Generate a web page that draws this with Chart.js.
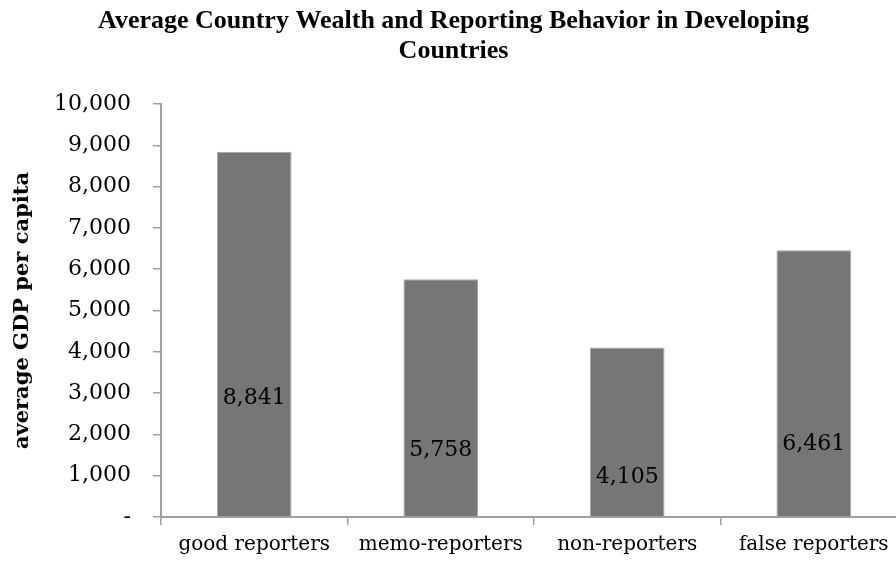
<!DOCTYPE html>
<html>
<head>
<meta charset="utf-8">
<script src="https://cdn.jsdelivr.net/npm/chart.js@4"></script>
<style>
  html, body { margin: 0; padding: 0; background: #fff; overflow: hidden; }
  #wrap { position: relative; width: 920px; height: 562px; }
</style>
</head>
<body>
<div id="wrap"><canvas id="c"></canvas></div>
<script>
// Reporting groups and their average GDP per capita
const categories = ['good reporters', 'memo-reporters', 'non-reporters', 'false reporters'];
const gdpPerCapita = [8841, 5758, 4105, 6461];
const titleLines = ['Average Country Wealth and Reporting Behavior in Developing', 'Countries'];
const yAxisTitle = 'average GDP per capita';
const yTicks = [0, 1000, 2000, 3000, 4000, 5000, 6000, 7000, 8000, 9000, 10000];

const fmt = v => v === 0 ? '-' : v.toLocaleString('en-US');

// Value labels sit inside each bar at an axis-unit height
const barLabels = {
  id: 'barLabels',
  afterDatasetsDraw(chart, args, opts) {
    const ctx = chart.ctx;
    const y = chart.scales.y;
    const meta = chart.getDatasetMeta(0);
    ctx.save();
    ctx.font = opts.font;
    ctx.fillStyle = '#000';
    ctx.textAlign = 'center';
    ctx.textBaseline = 'middle';
    meta.data.forEach((bar, i) => {
      const v = chart.data.datasets[0].data[i];
      ctx.fillText(fmt(v), bar.x, y.getPixelForValue(opts.anchors[i]));
    });
    ctx.restore();
  }
};

new Chart(document.getElementById('c'), {
  type: 'bar',
  data: {
    labels: categories,
    datasets: [{
      data: gdpPerCapita,
      backgroundColor: '#767676',
      borderColor: '#a8a8a8',
      borderWidth: 1,
      borderSkipped: 'bottom',
      categoryPercentage: 1.0,
      barPercentage: 0.4
    }]
  },
  options: {
    responsive: true,
    maintainAspectRatio: false,
    animation: false,
    layout: { padding: { left: 0, right: 13, top: 0, bottom: 0 } },
    plugins: {
      legend: { display: false },
      tooltip: { enabled: false },
      title: {
        display: true,
        text: titleLines,
        color: '#000',
        font: { family: 'Liberation Serif', size: 26, weight: 'bold', lineHeight: 1.154 },
        padding: { top: 6, bottom: 38 }
      },
      barLabels: {
        font: '22px "DejaVu Serif"',
        anchors: [2875, 1613, 958, 1759]
      }
    },
    scales: {
      x: {
        grid: {
          display: true,
          drawOnChartArea: false,
          drawTicks: true,
          tickLength: 8,
          color: '#a0a0a0',
          lineWidth: 1.5
        },
        border: { color: '#a0a0a0', width: 2 },
        ticks: {
          color: '#000',
          font: { family: 'DejaVu Serif', size: 20 },
          padding: 8,
          maxRotation: 0,
          autoSkip: false
        },
        afterFit(scale) { scale.height = 45; }
      },
      y: {
        min: 0,
        max: 10000,
        afterBuildTicks(scale) { scale.ticks = yTicks.map(v => ({ value: v })); },
        grid: {
          display: true,
          drawOnChartArea: false,
          drawTicks: true,
          tickLength: 8,
          color: '#a0a0a0',
          lineWidth: 1.5
        },
        border: { color: '#a0a0a0', width: 2 },
        ticks: {
          color: '#000',
          font: { family: 'DejaVu Serif', size: 22 },
          padding: 22,
          callback: v => fmt(v)
        },
        title: {
          display: true,
          text: yAxisTitle,
          color: '#000',
          font: { family: 'DejaVu Serif', size: 21, weight: 'bold' },
          padding: { top: 10, bottom: 0 }
        },
        afterFit(scale) { scale.width = 161; }
      }
    }
  },
  plugins: [barLabels]
});
</script>
</body>
</html>
